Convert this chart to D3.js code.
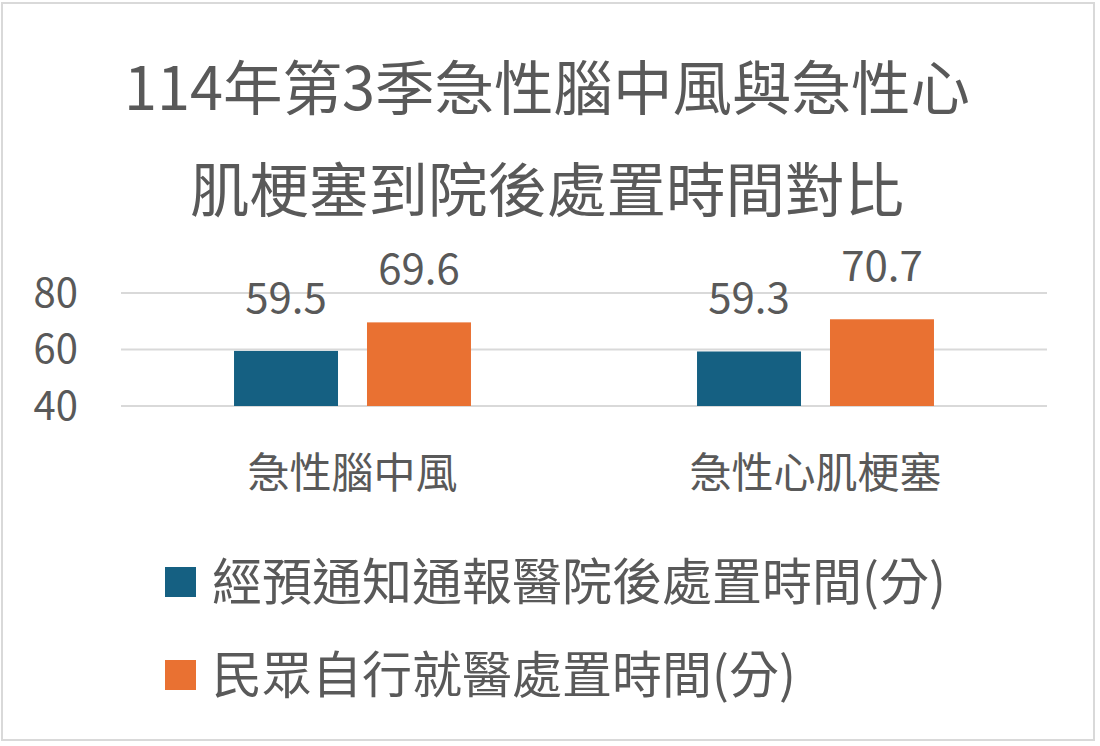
<!DOCTYPE html>
<html>
<head>
<meta charset="utf-8">
<script src="https://cdn.jsdelivr.net/npm/d3@7"></script>
<style>
  html, body { margin: 0; padding: 0; background: #ffffff; }
  svg { display: block; }
  text { font-family: "Noto Sans CJK TC", "Noto Sans", sans-serif; fill: #595959; }
</style>
</head>
<body>
<svg id="chart" width="1100" height="746"></svg>
<script>
const titleLines = ["114年第3季急性腦中風與急性心", "肌梗塞到院後處置時間對比"];
const categories = ["急性腦中風", "急性心肌梗塞"];
const seriesNames = ["經預通知通報醫院後處置時間(分)", "民眾自行就醫處置時間(分)"];
const seriesColors = ["#156082", "#E97132"];
const preNotifiedValues = [59.5, 59.3];
const selfArrivalValues = [69.6, 70.7];
const yTicks = [40, 60, 80];

const seriesValues = [preNotifiedValues, selfArrivalValues];

const svg = d3.select("#chart");

// outer border
svg.append("rect")
  .attr("x", 2).attr("y", 3).attr("width", 1092).attr("height", 737)
  .attr("fill", "#ffffff").attr("stroke", "#D9D9D9").attr("stroke-width", 2);

// title
svg.append("g").selectAll("text").data(titleLines).join("text")
  .attr("x", 547)
  .attr("y", (d, i) => 84 + i * 102)
  .attr("text-anchor", "middle")
  .attr("dominant-baseline", "central")
  .attr("font-size", 59.5)
  .text(d => d);

const plotLeft = 121, plotRight = 1047;
const x0 = d3.scaleBand().domain(categories).range([plotLeft, plotRight]).paddingInner(0).paddingOuter(0);
const x1 = d3.scaleBand().domain(d3.range(seriesNames.length)).range([0, x0.bandwidth()]).paddingInner(0.218).paddingOuter(0.85);
const y = d3.scaleLinear().domain([40, 80]).range([406, 293]);

// gridlines
svg.append("g").selectAll("line").data(yTicks).join("line")
  .attr("x1", plotLeft).attr("x2", plotRight)
  .attr("y1", d => y(d)).attr("y2", d => y(d))
  .attr("stroke", "#D9D9D9").attr("stroke-width", 2);

// y axis labels
const yAxis = d3.axisLeft(y).tickValues(yTicks).tickSize(0).tickPadding(0);
const yg = svg.append("g").attr("transform", "translate(78,0)").call(yAxis);
yg.select(".domain").remove();
yg.selectAll("text")
  .attr("font-size", 40)
  .attr("fill", "#595959")
  .attr("font-family", "'Noto Sans', sans-serif")
  .attr("dy", "0.36em")
  .attr("y", -1);

// bars
const groups = svg.append("g").selectAll("g").data(categories).join("g")
  .attr("transform", d => `translate(${x0(d)},0)`);

groups.selectAll("rect")
  .data((c, ci) => seriesValues.map((vals, si) => ({si, v: vals[ci]})))
  .join("rect")
  .attr("x", d => x1(d.si))
  .attr("width", x1.bandwidth())
  .attr("y", d => y(d.v))
  .attr("height", d => y(40) - y(d.v))
  .attr("fill", d => seriesColors[d.si]);

groups.selectAll("text.val")
  .data((c, ci) => seriesValues.map((vals, si) => ({si, v: vals[ci]})))
  .join("text")
  .attr("class", "val")
  .attr("x", d => x1(d.si) + x1.bandwidth() / 2)
  .attr("y", d => y(d.v) - 38)
  .attr("text-anchor", "middle")
  .attr("font-family", "'Noto Sans', sans-serif")
  .attr("font-size", 42)
  .text(d => d.v.toFixed(1));

// category labels
const xAxis = d3.axisBottom(x0).tickSize(0).tickPadding(0);
const xg = svg.append("g").attr("transform", "translate(0,469)").call(xAxis);
xg.select(".domain").remove();
xg.selectAll("text")
  .attr("font-size", 42)
  .attr("fill", "#595959")
  .attr("font-family", "'Noto Sans CJK TC', 'Noto Sans', sans-serif")
  .attr("dominant-baseline", "central")
  .attr("dy", 0)
  .attr("y", 0);

// legend
const legend = svg.append("g").selectAll("g").data(seriesNames).join("g")
  .attr("transform", (d, i) => `translate(165,${580 + i * 93})`);
legend.append("rect")
  .attr("x", 0).attr("y", -13).attr("width", 31).attr("height", 30)
  .attr("fill", (d, i) => seriesColors[i]);
legend.append("text")
  .attr("x", 47).attr("y", -2)
  .attr("dominant-baseline", "central")
  .attr("font-size", 50)
  .text(d => d);
</script>
</body>
</html>
